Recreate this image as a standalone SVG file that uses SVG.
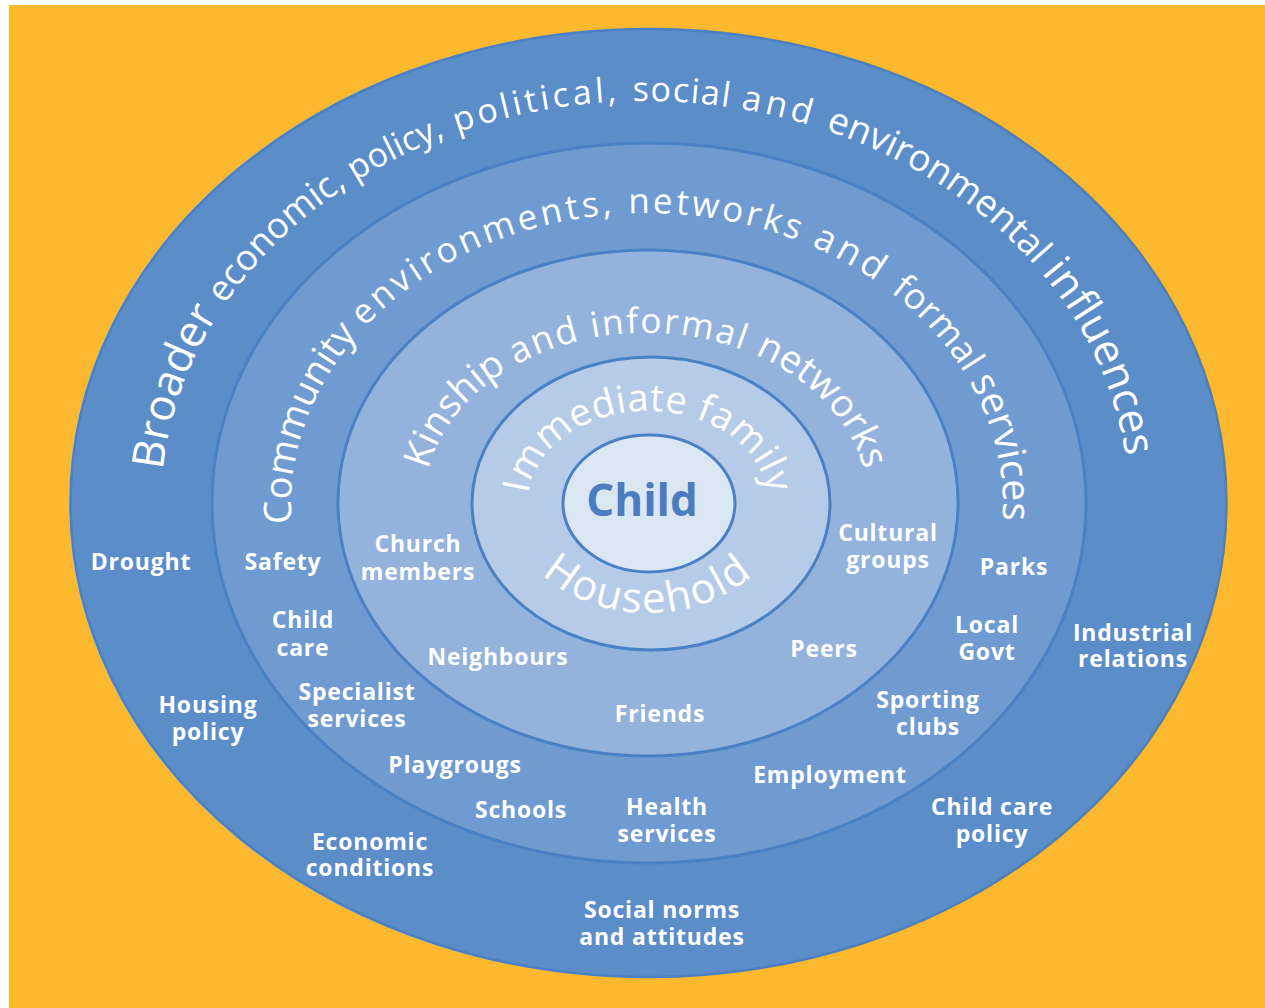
<svg xmlns="http://www.w3.org/2000/svg" width="1265" height="1008" viewBox="0 0 1265 1008">
<style>
.ring{stroke:#4a80c4;stroke-width:3}
.title{font-family:"Open Sans","DejaVu Sans",sans-serif;font-weight:400;fill:#ffffff}
.lbl{font-family:"Open Sans","DejaVu Sans",sans-serif;font-weight:700;font-size:23px;letter-spacing:0.8px;fill:#ffffff;text-anchor:middle}
</style>
<defs>
<path id="p-outer" d="M177.5,609.6 A484,404 0 1 1 1112.5,609.6"/>
<path id="p-comm" d="M303.1,580.6 A356,292 0 1 1 990.9,580.6"/>
<path id="p-kin" d="M431.6,547 A222,170 0 1 1 860.4,547"/>
<path id="p-imm" d="M532.1,526.8 A120,92 0 1 1 763.9,526.8"/>
<path id="p-house" d="M508,500 A140,113 0 0 0 788,500"/>
</defs>
<rect x="0" y="0" width="1265" height="1008" fill="#ffffff"/>
<rect x="9" y="5" width="1256" height="1003" fill="#fcb92f"/>

<g id="ring-broader">
<ellipse class="ring" cx="648.5" cy="503" rx="578" ry="474" fill="#5b8dc9" style="stroke-width:2.5"/>
<text class="title"><textPath href="#p-outer" startOffset="141"><tspan font-size="44">Broader </tspan><tspan font-size="36">economic, </tspan><tspan font-size="34">policy,</tspan><tspan font-size="34" letter-spacing="3.5"> political, </tspan><tspan font-size="34" letter-spacing="1.5">social </tspan><tspan font-size="35" letter-spacing="4">and </tspan><tspan font-size="37">environmental </tspan><tspan font-size="43">influences</tspan></textPath></text>
</g>

<g id="ring-community">
<ellipse class="ring" cx="649" cy="503" rx="437" ry="360" fill="#6f9bd0"/>
<text class="title"><textPath href="#p-comm" startOffset="58"><tspan font-size="38">Community </tspan><tspan font-size="35" letter-spacing="3.5">environments, </tspan><tspan font-size="35" letter-spacing="3">networks </tspan><tspan font-size="37" letter-spacing="4">and </tspan><tspan font-size="36">formal </tspan><tspan font-size="39">services</tspan></textPath></text>
</g>

<g id="ring-kinship">
<ellipse class="ring" cx="648" cy="503" rx="310" ry="253" fill="#93b3dc"/>
<text class="title"><textPath href="#p-kin" startOffset="50%" text-anchor="middle"><tspan font-size="38">Kinship </tspan><tspan font-size="36" letter-spacing="2">and </tspan><tspan font-size="35" letter-spacing="2">informal </tspan><tspan font-size="38">networks</tspan></textPath></text>
</g>

<g id="ring-immediate">
<ellipse class="ring" cx="651" cy="503.5" rx="179" ry="146.5" fill="#b6cbe7"/>
<text class="title" font-size="38" letter-spacing="0.5"><textPath href="#p-imm" startOffset="50%" text-anchor="middle">Immediate family</textPath></text>
<text class="title" font-size="42" letter-spacing="2"><textPath href="#p-house" startOffset="50%" text-anchor="middle">Household</textPath></text>
</g>

<g id="child">
<ellipse class="ring" cx="649" cy="503.5" rx="86" ry="68.5" fill="#dbe6f3"/>
<text x="642" y="516" font-family="'Open Sans','DejaVu Sans',sans-serif" font-weight="700" font-size="44" fill="#4a7cbf" text-anchor="middle">Child</text>
</g>

<g id="labels">
<g id="n-drought"><text class="lbl" x="141" y="570">Drought</text></g>
<g id="n-safety"><text class="lbl" x="283" y="570">Safety</text></g>
<g id="n-childcare"><text class="lbl" x="303" y="628">Child</text><text class="lbl" x="303" y="656">care</text></g>
<g id="n-specialist"><text class="lbl" x="357" y="700">Specialist</text><text class="lbl" x="357" y="727">services</text></g>
<g id="n-housing"><text class="lbl" x="208" y="713">Housing</text><text class="lbl" x="208" y="740">policy</text></g>
<g id="n-church"><text class="lbl" x="418" y="552">Church</text><text class="lbl" x="418" y="580">members</text></g>
<g id="n-cultural"><text class="lbl" x="888" y="541">Cultural</text><text class="lbl" x="888" y="568">groups</text></g>
<g id="n-parks"><text class="lbl" x="1014" y="575">Parks</text></g>
<g id="n-localgovt"><text class="lbl" x="987" y="633">Local</text><text class="lbl" x="987" y="660">Govt</text></g>
<g id="n-industrial"><text class="lbl" x="1133" y="641">Industrial</text><text class="lbl" x="1133" y="667">relations</text></g>
<g id="n-neighbours"><text class="lbl" x="498" y="665">Neighbours</text></g>
<g id="n-peers"><text class="lbl" x="824" y="657">Peers</text></g>
<g id="n-friends"><text class="lbl" x="660" y="722">Friends</text></g>
<g id="n-sporting"><text class="lbl" x="928" y="708">Sporting</text><text class="lbl" x="928" y="735">clubs</text></g>
<g id="n-playgroups"><text class="lbl" x="455" y="773">Playgrougs</text></g>
<g id="n-employment"><text class="lbl" x="830" y="783">Employment</text></g>
<g id="n-schools"><text class="lbl" x="521" y="818">Schools</text></g>
<g id="n-health"><text class="lbl" x="667" y="815">Health</text><text class="lbl" x="667" y="842">services</text></g>
<g id="n-childcarepolicy"><text class="lbl" x="992" y="815">Child care</text><text class="lbl" x="992" y="842">policy</text></g>
<g id="n-economic"><text class="lbl" x="370" y="850">Economic</text><text class="lbl" x="370" y="876">conditions</text></g>
<g id="n-social"><text class="lbl" x="662" y="918">Social norms</text><text class="lbl" x="662" y="945">and attitudes</text></g>
</g>
<g id="connectors"></g>
</svg>
